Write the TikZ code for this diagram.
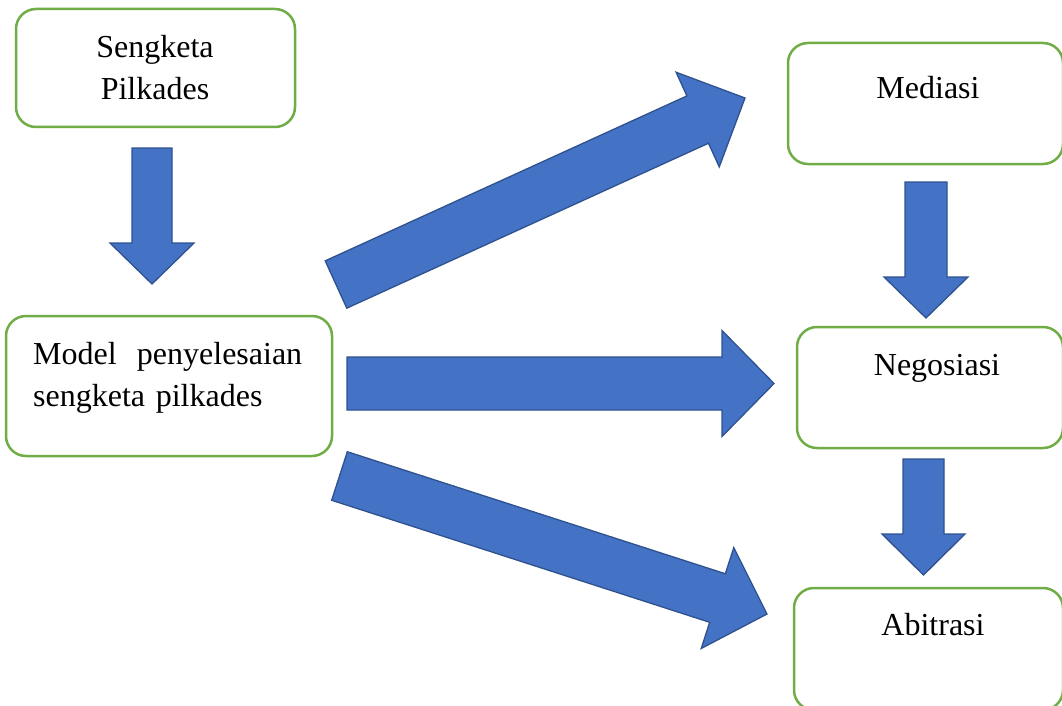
\documentclass[tikz,border=0pt]{standalone}
\usepackage{fontspec}
\setmainfont{Liberation Serif}
\usetikzlibrary{calc}

\definecolor{boxgreen}{HTML}{70AD47}
\definecolor{arrowblue}{HTML}{4472C4}
\definecolor{arrowedge}{HTML}{2F528F}

\tikzset{
  stage/.style={draw=boxgreen, line width=2.5pt, rounded corners=20pt, inner sep=0pt},
  caption/.style={inner sep=0pt, font=\fontsize{32}{42}\selectfont},
  blockarrow/.style={fill=arrowblue, draw=arrowedge, line width=1.3pt, line join=miter},
}

% fat arrow from tail #1 to tip #2: shaft half width #3, head half width #4, head length #5
\newcommand{\fatarrow}[5]{%
  \coordinate (hb) at ($(#2)!#5!(#1)$);
  \draw[blockarrow] ($(#1)!#3!90:(#2)$) -- ($(hb)!#3!-90:(#1)$) -- ($(hb)!#4!-90:(#1)$) -- (#2)
    -- ($(hb)!#4!90:(#1)$) -- ($(hb)!#3!90:(#1)$) -- ($(#1)!#3!-90:(#2)$) -- cycle;
}

\begin{document}
\begin{tikzpicture}[x=1pt, y=-1pt]
	\path[use as bounding box, fill=white] (0,0) rectangle (1062,706);

	% boxes
	\node[stage, minimum width=279pt, minimum height=118pt] (sengketa) at (155.5,68) {};
	\node[stage, minimum width=326pt, minimum height=140pt] (model) at (169,386) {};
	\node[stage, minimum width=275pt, minimum height=121pt] (mediasi) at (925.5,103.5) {};
	\node[stage, minimum width=266pt, minimum height=121pt] (negosiasi) at (930,387.5) {};
	\node[stage, minimum width=269pt, minimum height=122pt] (abitrasi) at (928.5,649) {};

	% texts
	\node[caption, align=center, anchor=north] (sengketa text) at (155,35.3) {Sengketa\\Pilkades};
	\node[caption, anchor=north west, text width=269pt, align=left] (model text) at (33,342.3)
		{Model\hfill penyelesaian\\sengketa pilkades};
	\node[caption, anchor=base] (mediasi text) at (928,99) {Mediasi};
	\node[caption, anchor=base] (negosiasi text) at (937,375) {Negosiasi};
	\node[caption, anchor=base] (abitrasi text) at (933,635) {Abitrasi};

	% arrows
	\coordinate (down1 tail) at (152,148);
	\coordinate (down1 tip) at (152,284);
	\coordinate (down2 tail) at (926,182);
	\coordinate (down2 tip) at (926,318);
	\coordinate (down3 tail) at (923.5,459);
	\coordinate (down3 tip) at (923.5,575);
	\coordinate (right tail) at (347,383.5);
	\coordinate (right tip) at (774,383.5);
	\coordinate (up tail) at (336,284.5);
	\coordinate (up tip) at (745,98);
	\coordinate (low tail) at (339.5,476);
	\coordinate (low tip) at (767,614);

	\fatarrow{down1 tail}{down1 tip}{20pt}{42pt}{41pt}
	\fatarrow{down2 tail}{down2 tip}{21pt}{42pt}{41pt}
	\fatarrow{down3 tail}{down3 tip}{20.5pt}{41.5pt}{41pt}
	\fatarrow{right tail}{right tip}{26.5pt}{53pt}{52pt}
	\fatarrow{up tail}{up tip}{26pt}{52pt}{52pt}
	\fatarrow{low tail}{low tip}{25.5pt}{53pt}{52pt}

\end{tikzpicture}
\end{document}
